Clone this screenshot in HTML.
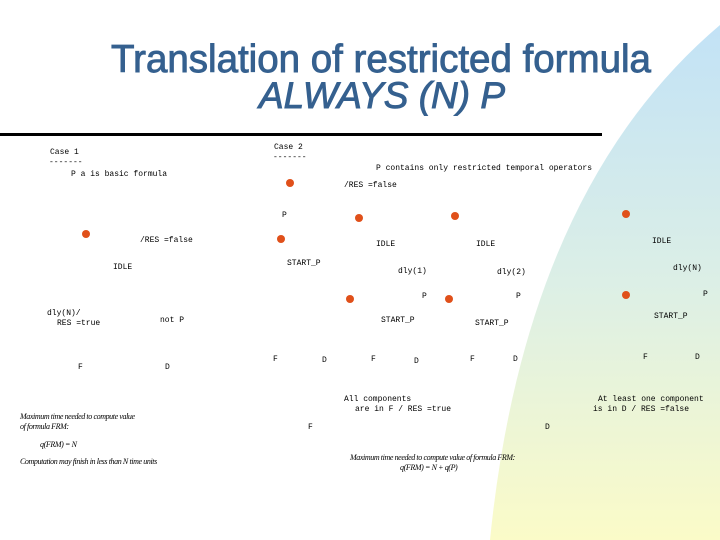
<!DOCTYPE html>
<html><head><meta charset="utf-8"><style>
body{margin:0}
#s{position:relative;width:720px;height:540px;overflow:hidden;background:#fff;font-family:"Liberation Mono",monospace;font-size:8px;color:#000}
#s div.t{position:absolute;white-space:pre;line-height:10px}
.d{position:absolute;width:8px;height:8px;border-radius:50%;background:#e0501a}
.i{font-family:"Liberation Serif",serif;font-style:italic;font-size:8px;letter-spacing:-0.4px}
</style></head><body>
<div id="s">
<svg width="720" height="540" style="position:absolute;left:0;top:0">
<defs><linearGradient id="g" x1="0" y1="0" x2="0" y2="1">
<stop offset="0" stop-color="#c2e2f6"/><stop offset="0.5" stop-color="#dcefe6"/><stop offset="1" stop-color="#fbfbc8"/></linearGradient></defs>
<path d="M720 25 Q525 190 490 540 L720 540 Z" fill="url(#g)"/>
<rect x="0" y="133" width="602" height="3" fill="#000"/>
</svg>
<div class="t" style="left:0;width:762px;text-align:center;top:39px;font-family:'Liberation Sans',sans-serif;font-size:38.5px;line-height:42px;color:#35608f;-webkit-text-stroke:0.9px #35608f">Translation of restricted formula</div>
<div class="t" style="left:0;width:764px;text-align:center;top:75px;font-family:'Liberation Sans',sans-serif;font-size:37px;line-height:42px;color:#35608f;font-style:italic;-webkit-text-stroke:0.9px #35608f">ALWAYS (N) P</div>
</div>
<script>
const labels=[
["Case 1",50,148],["-------",49,158],["P a is basic formula",71,170],
["Case 2",274,143],["-------",273,153],
["P contains only restricted temporal operators",376,164],
["/RES =false",344,181],["P",282,211],["/RES =false",140,236],
["IDLE",113,263],["IDLE",376,240],["IDLE",476,240],["IDLE",652,237],
["START_P",287,259],["dly(1)",398,267],["dly(2)",497,268],["dly(N)",673,264],
["P",422,292],["P",516,292],["P",703,290],
["dly(N)/",47,309],["RES =true",57,319],["not P",160,316],
["START_P",381,316],["START_P",475,319],["START_P",654,312],
["F",78,363],["D",165,363],["F",273,355],["D",322,356],["F",371,355],["D",414,357],
["F",470,355],["D",513,355],["F",643,353],["D",695,353],
["All components",344,395],["are in F / RES =true",355,405],
["At least one component",598,395],["is in D / RES =false",593,405],
["F",308,423],["D",545,423]];
const italics=[
["Maximum time needed to compute value",20,412],["of formula FRM:",20,422],
["q(FRM) = N",40,440],["Computation may finish in less than N time units",20,457],
["Maximum time needed to compute value of formula FRM:",350,453],["q(FRM) = N + q(P)",400,463]];
const dots=[[290,183],[86,234],[281,239],[359,218],[455,216],[626,214],[350,299],[449,299],[626,295]];
const c=document.getElementById('s');
labels.forEach(l=>{const e=document.createElement('div');e.className='t';


e.textContent=l[0];e.style.left=l[1]+'px';e.style.top=l[2]+'px';c.appendChild(e);});
italics.forEach(l=>{const e=document.createElement('div');e.className='t i';


e.textContent=l[0];e.style.left=l[1]+'px';e.style.top=l[2]+'px';c.appendChild(e);});
dots.forEach(d=>{const e=document.createElement('div');e.className='d';


e.style.left=(d[0]-4)+'px';e.style.top=(d[1]-4)+'px';c.appendChild(e);});
</script>
</body></html>
